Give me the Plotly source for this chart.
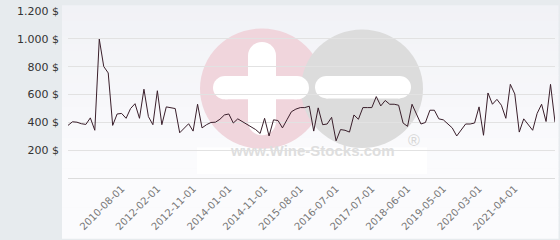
import plotly.graph_objects as go

# ---- data ----
prices = [378, 404, 401, 390, 385, 432, 343, 998, 801, 755,
          378, 460, 464, 429, 499, 534, 429, 638, 441, 383,
          627, 383, 511, 504, 499, 325, 360, 390, 337, 530,
          360, 383, 399, 401, 422, 453, 460, 395, 425, 406,
          390, 371, 348, 320, 429, 302, 418, 413, 360, 418,
          476, 495, 506, 506, 516, 337, 504, 383, 388, 436,
          267, 348, 343, 330, 453, 422, 506, 506, 506, 585,
          518, 557, 530, 530, 523, 395, 371, 530, 453, 388,
          399, 487, 487, 425, 418, 388, 360, 302, 348, 388,
          388, 395, 511, 307, 611, 530, 565, 523, 429, 673,
          604, 330, 425, 388, 343, 464, 530, 406, 673, 401]
point_index = list(range(len(prices)))
tick_positions = [12, 20, 28, 36, 44, 52, 60, 68, 76, 84, 92, 100]
tick_labels = ["2010-08-01", "2012-02-01", "2012-11-01", "2014-01-01",
               "2014-11-01", "2015-08-01", "2016-07-01", "2017-07-01",
               "2018-06-01", "2019-05-01", "2020-03-01", "2021-04-01"]
y_ticks = [200, 400, 600, 800, 1000, 1200]
y_tick_labels = ["200 $", "400 $", "600 $", "800 $", "1.000 $", "1.200 $"]

# ---- layout geometry (pixels) ----
W, H = 560, 240
L, R, T, B = 68, 5, 6, 62
PW, PH = W - L - R, H - T - B


def px(x):
    return (x - L) / PW


def py(y):
    return (H - B - y) / PH


shapes = []
# light panel with vertical gradient
n = 30
top = (241, 242, 246)
mid = (251, 251, 253)
for i in range(n):
    y0 = H * i / n
    y1 = H * (i + 1) / n + 0.6
    f = min(1.0, y0 / 160)
    c = tuple(round(top[k] + (mid[k] - top[k]) * f) for k in range(3))
    shapes.append(dict(type="rect", xref="paper", yref="paper",
                       x0=px(62), x1=px(558.5), y0=py(y1), y1=py(y0),
                       fillcolor="rgb(%d,%d,%d)" % c, line_width=0, layer="below"))

# watermark
shapes.append(dict(type="rect", xref="paper", yref="paper",
                   x0=px(197), x1=px(427), y0=py(174), y1=py(146.5),
                   fillcolor="#ffffff", line_width=0, layer="between"))


def circ(cx, cy, r, color):
    shapes.append(dict(type="circle", xref="paper", yref="paper",
                       x0=px(cx - r), x1=px(cx + r), y0=py(cy + r), y1=py(cy - r),
                       fillcolor=color, line_width=0, layer="below"))


def bar(x0, x1, y0, y1):
    # rounded bar = rect + two end circles
    if (x1 - x0) >= (y1 - y0):
        r = (y1 - y0) / 2
        shapes.append(dict(type="rect", xref="paper", yref="paper",
                           x0=px(x0 + r), x1=px(x1 - r), y0=py(y1), y1=py(y0),
                           fillcolor="#ffffff", line_width=0, layer="below"))
        circ(x0 + r, (y0 + y1) / 2, r, "#ffffff")
        circ(x1 - r, (y0 + y1) / 2, r, "#ffffff")
    else:
        r = (x1 - x0) / 2
        shapes.append(dict(type="rect", xref="paper", yref="paper",
                           x0=px(x0), x1=px(x1), y0=py(y1 - r), y1=py(y0 + r),
                           fillcolor="#ffffff", line_width=0, layer="below"))
        circ((x0 + x1) / 2, y0 + r, r, "#ffffff")
        circ((x0 + x1) / 2, y1 - r, r, "#ffffff")


circ(262, 86, 62, "#f0d5dc")
circ(362, 86, 61, "#dcdcdc")
bar(248, 276, 38, 134)
bar(213, 309, 73, 97)
bar(315, 411, 73, 96)

annotations = [
    dict(text="<b>www.Wine-Stocks.com</b>", xref="paper", yref="paper",
         x=px(312), y=py(160), showarrow=False,
         font=dict(family="Liberation Sans, Arial", size=15, color="#dedede")),
    dict(text="®", xref="paper", yref="paper", x=px(414), y=py(139),
         showarrow=False, xanchor="center", yanchor="middle",
         font=dict(family="Liberation Sans, Arial", size=16, color="#d6d6d6")),
]

fig = go.Figure()
fig.add_trace(go.Scatter(x=point_index, y=prices, mode="lines",
                         line=dict(color="#3a1f2b", width=1),
                         hoverinfo="skip"))

fig.update_layout(
    width=W, height=H,
    margin=dict(l=L, r=R, t=T, b=B),
    paper_bgcolor="#e7ebee",
    plot_bgcolor="rgba(0,0,0,0)",
    showlegend=False,
    shapes=shapes,
    annotations=annotations,
    font=dict(family="DejaVu Sans", color="#333333"),
)
fig.update_xaxes(range=[0, len(prices) - 1], tickmode="array",
                 tickvals=tick_positions, ticktext=tick_labels,
                 tickangle=-45, tickfont=dict(size=10, color="#777777"),
                 showgrid=False, zeroline=False, showline=True,
                 linecolor="#dcdcdc", linewidth=1, ticks="")
fig.update_yaxes(range=[0, 1200], tickmode="array", tickvals=y_ticks,
                 ticktext=y_tick_labels,
                 tickfont=dict(size=11, color="#333333"),
                 showgrid=True, gridcolor="#e2e2e2", gridwidth=1,
                 zeroline=False, showline=False, ticks="",
                 ticklabelstandoff=8, ticklabeloverflow="allow")

fig.write_html("out.html")
